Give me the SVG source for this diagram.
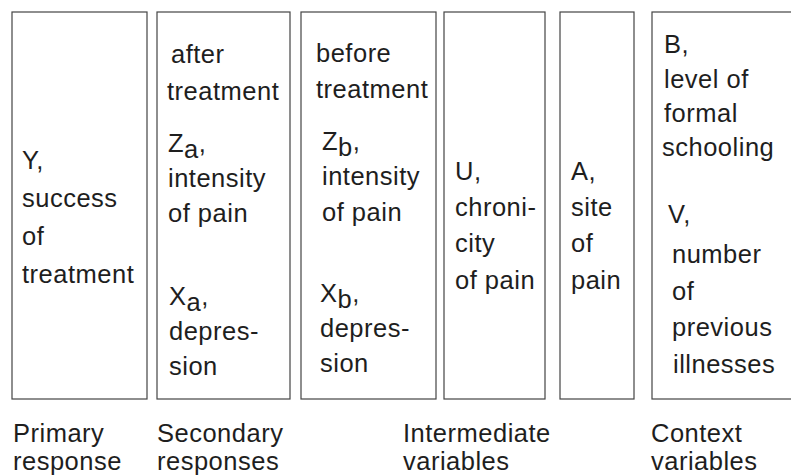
<svg xmlns="http://www.w3.org/2000/svg" width="791" height="475" viewBox="0 0 791 475">
<style>
.box{fill:#fff;stroke:#444;stroke-width:1.2}
text{font-family:"Liberation Sans",Arial,sans-serif;font-size:25.5px;fill:#1e1e1e;letter-spacing:0.5px}
</style>
<rect width="791" height="475" fill="#fff"/>
<g id="primary">
<rect class="box" x="12" y="12" width="135" height="387"/>
<text x="22" y="169">Y,</text>
<text x="22" y="207">success</text>
<text x="22" y="245">of</text>
<text x="22" y="283">treatment</text>
</g>
<g id="secondary-after">
<rect class="box" x="157" y="12" width="133" height="387"/>
<text x="171" y="63">after</text>
<text x="167" y="100">treatment</text>
<text x="168" y="152">Z<tspan dy="6">a</tspan><tspan dy="-6">,</tspan></text>
<text x="168" y="187">intensity</text>
<text x="168" y="222">of pain</text>
<text x="169" y="305">X<tspan dy="6">a</tspan><tspan dy="-6">,</tspan></text>
<text x="169" y="340">depres-</text>
<text x="169" y="375">sion</text>
</g>
<g id="secondary-before">
<rect class="box" x="301" y="12" width="135" height="387"/>
<text x="316" y="62">before</text>
<text x="316" y="98">treatment</text>
<text x="322" y="150">Z<tspan dy="6">b</tspan><tspan dy="-6">,</tspan></text>
<text x="322" y="185">intensity</text>
<text x="322" y="221">of pain</text>
<text x="320" y="302">X<tspan dy="6">b</tspan><tspan dy="-6">,</tspan></text>
<text x="320" y="337">depres-</text>
<text x="320" y="372">sion</text>
</g>
<g id="intermediate-chronicity">
<rect class="box" x="444" y="12" width="101" height="387"/>
<text x="455" y="180">U,</text>
<text x="455" y="216">chroni-</text>
<text x="455" y="252">city</text>
<text x="455" y="289">of pain</text>
</g>
<g id="intermediate-site">
<rect class="box" x="560" y="12" width="74" height="387"/>
<text x="571" y="180">A,</text>
<text x="571" y="216">site</text>
<text x="571" y="252">of</text>
<text x="571" y="289">pain</text>
</g>
<g id="context">
<rect class="box" x="652" y="12" width="150" height="387"/>
<text x="664" y="53">B,</text>
<text x="664" y="88">level of</text>
<text x="664" y="122">formal</text>
<text x="662" y="156">schooling</text>
<text x="668" y="223">V,</text>
<text x="672" y="263">number</text>
<text x="672" y="300">of</text>
<text x="672" y="336">previous</text>
<text x="673" y="373">illnesses</text>
</g>
<g id="labels">
<text x="13" y="442">Primary</text>
<text x="13" y="470">response</text>
<text x="157" y="442">Secondary</text>
<text x="157" y="470">responses</text>
<text x="403" y="442">Intermediate</text>
<text x="403" y="470">variables</text>
<text x="651" y="442">Context</text>
<text x="651" y="470">variables</text>
</g>
</svg>
